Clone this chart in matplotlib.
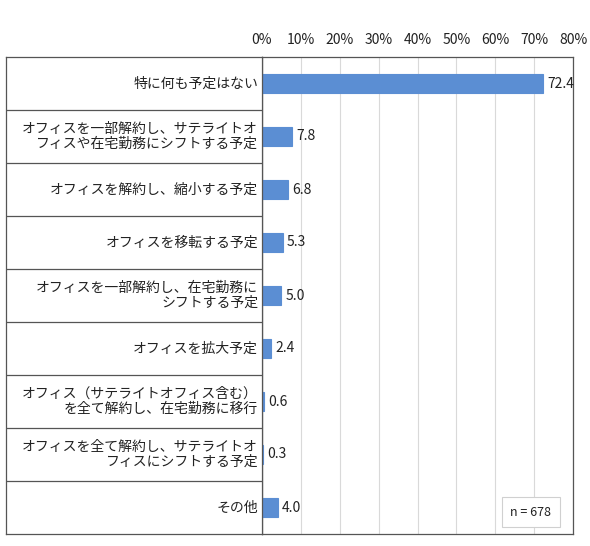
import matplotlib
matplotlib.use("Agg")
import matplotlib.pyplot as plt

plt.rcParams['font.family'] = ['Noto Sans CJK JP', 'DejaVu Sans']

categories = [
    "特に何も予定はない",
    "オフィスを一部解約し、サテライトオ\nフィスや在宅勤務にシフトする予定",
    "オフィスを解約し、縮小する予定",
    "オフィスを移転する予定",
    "オフィスを一部解約し、在宅勤務に\nシフトする予定",
    "オフィスを拡大予定",
    "オフィス（サテライトオフィス含む）\nを全て解約し、在宅勤務に移行",
    "オフィスを全て解約し、サテライトオ\nフィスにシフトする予定",
    "その他",
]
values = [72.4, 7.8, 6.8, 5.3, 5.0, 2.4, 0.6, 0.3, 4.0]
xticks = [0, 10, 20, 30, 40, 50, 60, 70, 80]
xticklabels = [f"{t}%" for t in xticks]
sample_note = "n = 678"

W, H = 590, 546
fig = plt.figure(figsize=(W / 100, H / 100), dpi=100)

x0, x1 = 262, 573
y0, y1 = 57, 534
ax = fig.add_axes([x0 / W, 1 - y1 / H, (x1 - x0) / W, (y1 - y0) / H])

n = len(categories)
ypos = list(range(n))
ax.barh(ypos, values, height=0.36, color="#5B8ED3", edgecolor="#5B8ED3",
        linewidth=0.8, zorder=3)
ax.set_ylim(n - 0.5, -0.5)
ax.set_xlim(0, 80)
ax.set_xticks(xticks)
ax.set_xticklabels(xticklabels, fontsize=10, color="#222222")
ax.xaxis.tick_top()
ax.tick_params(axis='x', length=0, pad=7)
ax.set_yticks([])
ax.grid(axis='x', color="#D9D9D9", linewidth=0.8, zorder=0)
for s in ax.spines.values():
    s.set_color("#555555")
    s.set_linewidth(0.9)

for y, v in zip(ypos, values):
    ax.text(v + 1.0, y, f"{v:.1f}", va='center', ha='left', fontsize=10, color="#222222")

# left label panel
axl = fig.add_axes([6 / W, 1 - y1 / H, (x0 - 6) / W, (y1 - y0) / H])
axl.set_xlim(0, 1)
axl.set_ylim(n - 0.5, -0.5)
axl.set_xticks([])
axl.set_yticks([])
for s in axl.spines.values():
    s.set_color("#555555")
    s.set_linewidth(0.9)
for i in range(1, n):
    axl.axhline(i - 0.5, color="#555555", linewidth=0.9)
for y, c in zip(ypos, categories):
    axl.text(0.985, y, c, ha='right', va='center', fontsize=10, color="#222222",
             linespacing=1.1)

# sample size box
fig.text(531 / W, 1 - 512 / H, sample_note, ha='center', va='center', fontsize=9,
         color="#222222",
         bbox=dict(boxstyle='square,pad=0.7', facecolor='white', edgecolor='#D0D0D0', linewidth=0.8))

fig.savefig("out.png", dpi=100)
